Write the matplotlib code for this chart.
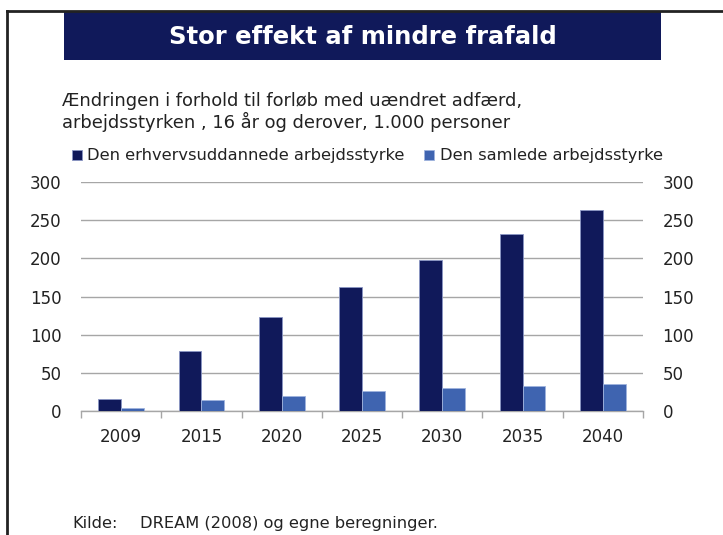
import matplotlib.pyplot as plt
from matplotlib.patches import Rectangle
from matplotlib.lines import Line2D
import numpy as np

# data (1.000 personer)
years = ["2009", "2015", "2020", "2025", "2030", "2035", "2040"]
erhvervsuddannede = [16, 78, 123, 162, 198, 232, 263]
samlede = [4, 14, 20, 26, 30, 33, 36]
yticks = [0, 50, 100, 150, 200, 250, 300]

dark = "#10195A"
light = "#3F64B0"
W, H = 723, 535

fig = plt.figure(figsize=(W / 100, H / 100), dpi=100)
fig.patch.set_facecolor("white")

# frame lines top / left
fig.add_artist(Line2D([7 / W, 1], [1 - 11 / H, 1 - 11 / H], color="#222222", lw=2, transform=fig.transFigure))
fig.add_artist(Line2D([7 / W, 7 / W], [0, 1 - 11 / H], color="#222222", lw=2, transform=fig.transFigure))

# title bar
fig.add_artist(Rectangle((64 / W, 1 - 60 / H), (661 - 64) / W, 48 / H, facecolor=dark,
                         edgecolor="none", transform=fig.transFigure))
fig.text(362.5 / W, 1 - 37 / H, "Stor effekt af mindre frafald", color="white", fontsize=17.5,
         fontweight="bold", ha="center", va="center")

fig.text(62 / W, 1 - 112 / H, "Ændringen i forhold til forløb med uændret adfærd,\narbejdsstyrken , 16 år og derover, 1.000 personer",
         fontsize=12.9, color="#222222", ha="left", va="center", linespacing=1.15)

ax = fig.add_axes([81 / W, 1 - 411 / H, (643 - 81) / W, (411 - 182) / H])
x = np.arange(len(years))
bw = 0.285
b1 = ax.bar(x - bw / 2, erhvervsuddannede, bw, color=dark, edgecolor="#8A96C4", linewidth=0.6,
            label="Den erhvervsuddannede arbejdsstyrke", zorder=3)
b2 = ax.bar(x + bw / 2, samlede, bw, color=light, edgecolor="#9FB3DD", linewidth=0.6,
            label="Den samlede arbejdsstyrke", zorder=3)

ax.set_xlim(-0.5, len(years) - 0.5)
ax.set_ylim(0, 300)
ax.set_yticks(yticks)
ax.yaxis.grid(True, color="#A6A6A6", linewidth=1, zorder=0)
ax.tick_params(axis="y", length=0, labelsize=12, labelcolor="#222222", pad=14,
               left=False, right=False, labelleft=True, labelright=True)
for s in ["top", "left", "right"]:
    ax.spines[s].set_visible(False)
ax.spines["bottom"].set_color("#A6A6A6")
ax.spines["bottom"].set_linewidth(1)

ax.set_xticks(x)
ax.set_xticklabels(years)
ax.set_xticks(np.arange(len(years) + 1) - 0.5, minor=True)
ax.tick_params(axis="x", which="major", length=0, labelsize=12, labelcolor="#222222", pad=12)
ax.tick_params(axis="x", which="minor", length=5, color="#A6A6A6", width=1)

fig.legend(handles=[b1, b2], loc="center left", bbox_to_anchor=(72 / W, 1 - 156 / H), ncol=2,
           frameon=False, fontsize=11.7, handlelength=0.6, handleheight=0.6, handletextpad=0.35,
           columnspacing=1.2, borderaxespad=0, borderpad=0, labelcolor="#222222")

fig.text(72 / W, 1 - 528 / H, "Kilde:", fontsize=11.7, color="#222222", ha="left", va="baseline")
fig.text(140 / W, 1 - 528 / H, "DREAM (2008) og egne beregninger.", fontsize=11.7,
         color="#222222", ha="left", va="baseline")

fig.savefig("out.png", dpi=100)
